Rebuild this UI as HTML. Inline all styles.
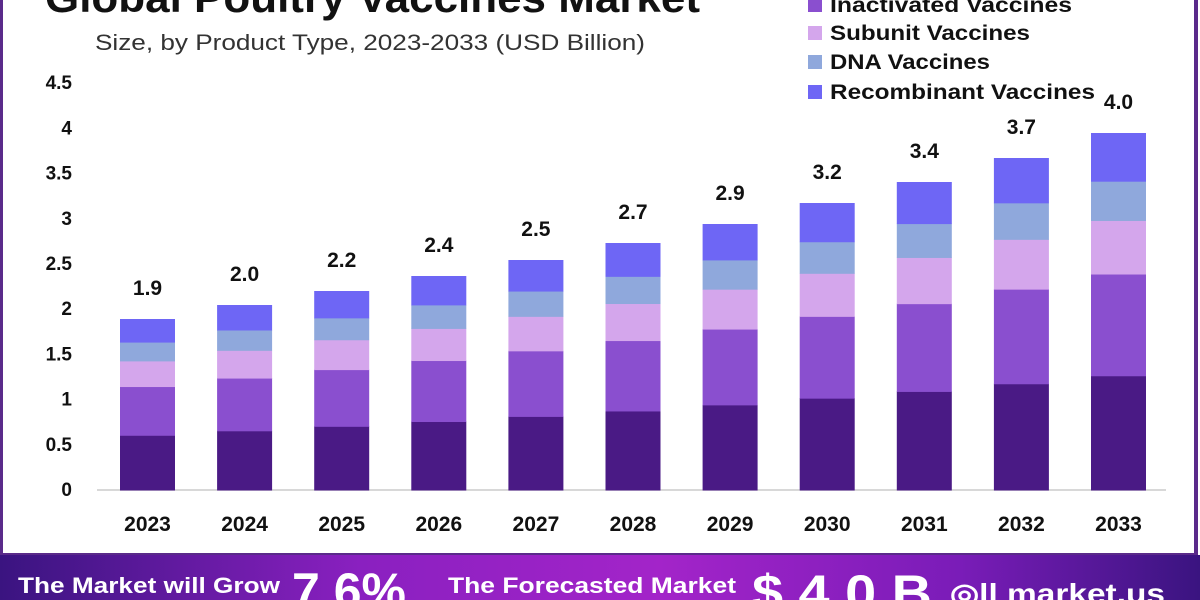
<!DOCTYPE html>
<html><head><meta charset="utf-8"><style>
html,body{margin:0;padding:0;width:1200px;height:600px;overflow:hidden;background:#fff;font-family:"Liberation Sans",sans-serif}
#wrap{position:relative;width:1200px;height:600px}
.banner{position:absolute;left:0;top:555px;width:1200px;height:45px;background:linear-gradient(90deg,#3a1480 0%,#8a20c0 30%,#a324c9 55%,#7a1cb8 80%,#3a1480 100%)}
</style></head><body><div id="wrap">
<svg id="s" width="1200" height="600" style="position:absolute;left:0;top:0">
<rect x="1" y="-5" width="1195" height="560" fill="#fff" stroke="#5a2a8a" stroke-width="4"/>
<text x="45" y="12" font-size="42" font-weight="bold" fill="#111" textLength="655" lengthAdjust="spacingAndGlyphs">Global Poultry Vaccines Market</text>
<text x="95" y="50" font-size="22" fill="#333" textLength="550" lengthAdjust="spacingAndGlyphs">Size, by Product Type, 2023-2033 (USD Billion)</text>
<line x1="97" y1="490" x2="1166" y2="490" stroke="#ccc" stroke-width="1.5"/>
<g id="bars"></g>
<g font-size="19" font-weight="bold" fill="#111" text-anchor="end" id="yt"></g>
<g font-size="21" font-weight="bold" fill="#111">
<rect x="808" y="-2" width="14" height="14" fill="#8a4fcf"/><text x="830" y="12" textLength="242" lengthAdjust="spacingAndGlyphs">Inactivated Vaccines</text>
<rect x="808" y="26" width="14" height="14" fill="#d4a6ec"/><text x="830" y="40" textLength="200" lengthAdjust="spacingAndGlyphs">Subunit Vaccines</text>
<rect x="808" y="55" width="14" height="14" fill="#8fa8dc"/><text x="830" y="69" textLength="160" lengthAdjust="spacingAndGlyphs">DNA Vaccines</text>
<rect x="808" y="85" width="14" height="14" fill="#6e66f5"/><text x="830" y="99" textLength="265" lengthAdjust="spacingAndGlyphs">Recombinant Vaccines</text>
</g>
</svg>
<div class="banner"></div>
<svg width="1200" height="600" style="position:absolute;left:0;top:0">
<g fill="#fff" font-weight="bold">
<text x="18" y="593" font-size="22" textLength="262" lengthAdjust="spacingAndGlyphs">The Market will Grow</text>
<text x="292" y="608" font-size="50">7.6%</text>
<text x="448" y="593" font-size="22" textLength="288" lengthAdjust="spacingAndGlyphs">The Forecasted Market</text>
<text x="752" y="610" font-size="50" textLength="180" lengthAdjust="spacingAndGlyphs">$ 4.0 B</text>
<text x="950" y="603" font-size="28" textLength="215" lengthAdjust="spacingAndGlyphs">◎ll market.us</text>
</g>
</svg>
<script>
var ns="http://www.w3.org/2000/svg",g=document.getElementById('bars'),yt=document.getElementById('yt');
var tops=[319,305,291,276,260,243,224,203,182,158,133],labs=["1.9","2.0","2.2","2.4","2.5","2.7","2.9","3.2","3.4","3.7","4.0"];
var fr=[0.32,0.285,0.15,0.11,0.135],col=["#4a1a85","#8a4fcf","#d4a6ec","#8fa8dc","#6e66f5"];
function el(t,a,txt){var e=document.createElementNS(ns,t);for(var k in a)e.setAttribute(k,a[k]);if(txt)e.textContent=txt;return e;}
for(var i=0;i<11;i++){var x=120+97.1*i,h=490-tops[i],y=490;
for(var j=0;j<5;j++){var sh=h*fr[j];g.appendChild(el('rect',{x:x,y:y-sh,width:55,height:sh+0.5,fill:col[j]}));y-=sh;}
g.appendChild(el('text',{x:x+27.5,y:tops[i]-24,'font-size':21,'font-weight':'bold','text-anchor':'middle',fill:'#111'},labs[i]));
g.appendChild(el('text',{x:x+27.5,y:531,'font-size':21,'font-weight':'bold','text-anchor':'middle',fill:'#111'},String(2023+i)));}
var tl=["0","0.5","1","1.5","2","2.5","3","3.5","4","4.5"];
for(var k=0;k<10;k++){yt.appendChild(el('text',{x:72,y:496-45.2*k},tl[k]));}
</script>
</div></body></html>
